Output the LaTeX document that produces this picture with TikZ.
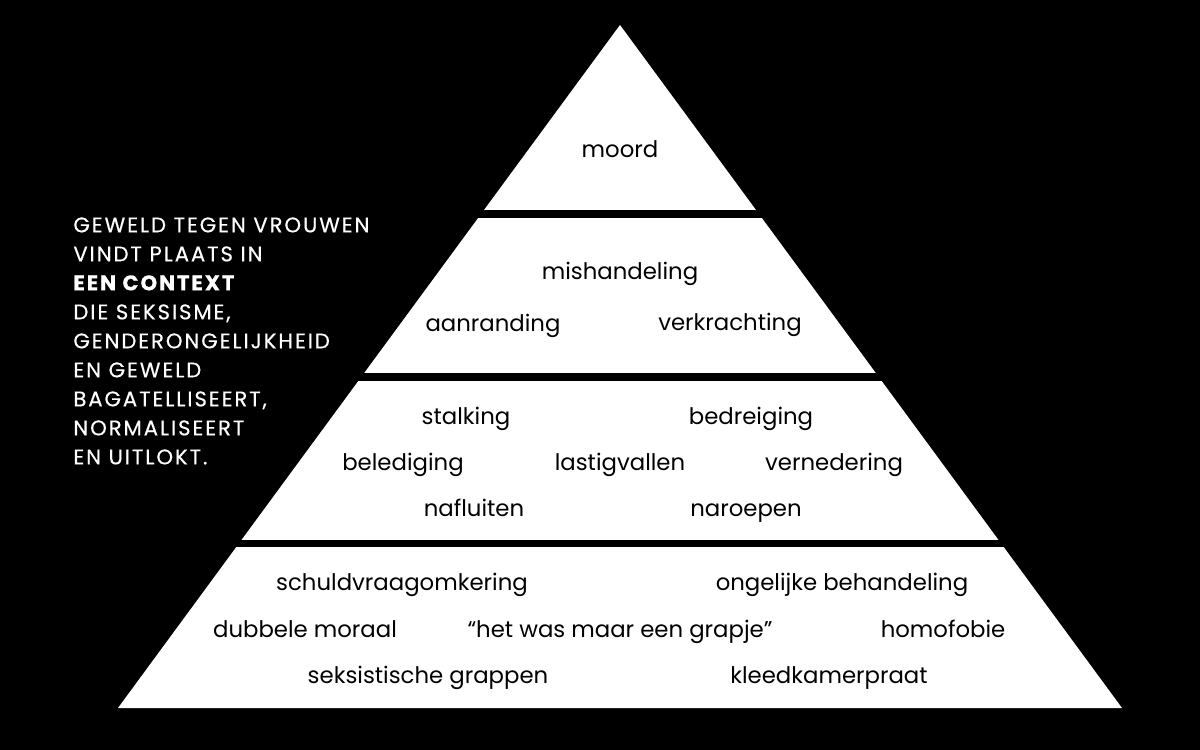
\documentclass[tikz,border=0pt]{standalone}
\usepackage{fontspec}
\setmainfont{Poppins}
\newfontfamily\capsfont[LetterSpace=9,FakeBold=0.4]{Poppins}
\begin{document}
\begin{tikzpicture}[x=0.5pt,y=-0.5pt,
  lbl/.style={anchor=base,inner sep=0pt,text=black,font=\fontsize{11.4}{14}\selectfont},
  gap/.style={fill=black}]
\useasboundingbox (0,0) rectangle (1200,750);
\fill[black] (0,0) rectangle (1200,750);
% pyramid
\coordinate (apex) at (620,25);
\coordinate (bl) at (118,708);
\coordinate (br) at (1122,708);
\fill[white] (apex) -- (bl) -- (br) -- cycle;
\fill[gap] (300,210) rectangle (940,218);
\fill[gap] (150,373) rectangle (1090,381);
\fill[gap] (100,540) rectangle (1140,547);
% labels
\node[lbl] (moord) at (620,157) {moord};
\node[lbl] (mish) at (620,279) {mishandeling};
\node[lbl] (aanr) at (493,331) {aanranding};
\node[lbl] (verk) at (730,330) {verkrachting};
\node[lbl] (stal) at (466,424) {stalking};
\node[lbl] (bedr) at (751,424) {bedreiging};
\node[lbl] (bele) at (403,470) {belediging};
\node[lbl] (last) at (620,470) {lastigvallen};
\node[lbl] (vern) at (834,470) {vernedering};
\node[lbl] (nafl) at (474,516) {nafluiten};
\node[lbl] (naro) at (746,516) {naroepen};
\node[lbl] (schu) at (402,590) {schuldvraagomkering};
\node[lbl] (onge) at (842,590) {ongelijke behandeling};
\node[lbl] (dubb) at (305,637) {dubbele moraal};
\node[lbl] (grap) at (620,637) {“het was maar een grapje”};
\node[lbl] (homo) at (943,637) {homofobie};
\node[lbl] (seks) at (428,683) {seksistische grappen};
\node[lbl] (klee) at (829,683) {kleedkamerpraat};
% side text
\node[anchor=north west,inner sep=0pt,text=white,align=left,
  font=\capsfont\fontsize{10.6}{14.5}\selectfont] (side) at (73,217)
  {GEWELD TEGEN VROUWEN\\
   VINDT PLAATS IN\\
   {\bfseries EEN CONTEXT}\\
   DIE SEKSISME,\\
   GENDERONGELIJKHEID\\
   EN GEWELD\\
   BAGATELLISEERT,\\
   NORMALISEERT\\
   EN UITLOKT.};
\end{tikzpicture}
\end{document}
